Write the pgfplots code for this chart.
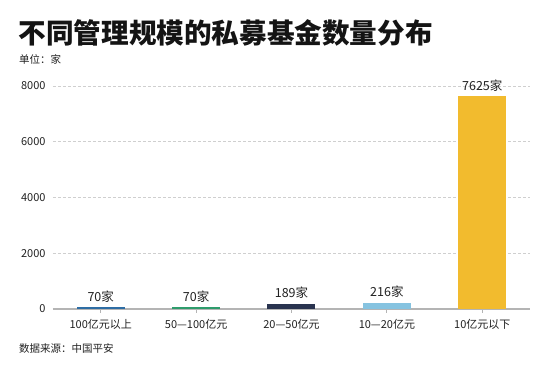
\documentclass[border=0pt]{standalone}
\usepackage{pgfplots}
\pgfplotsset{compat=1.18}
\usepackage{fontspec}
\setmainfont{Noto Sans CJK SC}
\definecolor{cblue}{HTML}{2E6DA4}
\definecolor{cgreen}{HTML}{2E9C6C}
\definecolor{cnavy}{HTML}{29334F}
\definecolor{clight}{HTML}{86C3E0}
\definecolor{cyellow}{HTML}{F2BB2E}
\definecolor{axisgray}{HTML}{B4B4B4}
\definecolor{gridgray}{HTML}{CFCFCF}
\definecolor{txt}{HTML}{222222}
\begin{document}
\begin{tikzpicture}[x=1pt,y=1pt]
\useasboundingbox (0,0) rectangle (550,371);
\fill[white] (0,0) rectangle (550,371);
\node[anchor=base west, inner sep=0, font=\fontsize{27.6}{30}\selectfont\bfseries, text=black!92] at (18.5,327) {不同管理规模的私募基金数量分布};
\node[anchor=base west, inner sep=0, font=\fontsize{10.5}{12}\selectfont, text=txt] at (19,307.5) {单位：家};
\node[anchor=base west, inner sep=0, font=\fontsize{10.5}{12}\selectfont, text=txt] at (19,18) {数据来源：中国平安};
\begin{axis}[
  at={(53pt,62pt)}, anchor=south west,
  width=477pt, height=223pt, scale only axis,
  xmin=-0.5, xmax=4.5, ymin=0, ymax=8000,
  ybar, bar width=48pt, bar shift=0pt,
  axis x line*=bottom, axis y line*=left,
  x axis line style={draw=none},
  y axis line style={draw=none},
  ytick={2000,4000,6000,8000},
  extra y ticks={0},
  extra y tick style={ymajorgrids=true, major grid style={draw=axisgray, solid, line width=1.3pt}},
  ymajorgrids,
  grid style={draw=gridgray, dash pattern=on 3pt off 2pt, line width=0.7pt},
  xtick={0,1,2,3,4},
  xticklabels={100亿元以上,50—100亿元,20—50亿元,10—20亿元,10亿元以下},
  xtick style={draw=axisgray, line width=0.8pt},
  ytick style={draw=none},
  tick align=outside, major tick length=4pt,
  xticklabel style={font=\fontsize{11}{12}\selectfont, text=txt, yshift=-3pt},
  yticklabel style={font=\fontsize{11}{12}\selectfont, text=txt},
  /pgf/number format/1000 sep={},
  /pgf/number format/assume math mode=true,
  nodes near coords={\pgfmathprintnumber{\pgfplotspointmeta}家},
  nodes near coords style={font=\fontsize{12.5}{14}\selectfont, text=txt, anchor=base, yshift=6pt},
  clip=false,
]
\addplot[fill=cblue, draw=none] coordinates {(0,70)};
\addplot[fill=cgreen, draw=none] coordinates {(1,70)};
\addplot[fill=cnavy, draw=none] coordinates {(2,189)};
\addplot[fill=clight, draw=none] coordinates {(3,216)};
\addplot[fill=cyellow, draw=none] coordinates {(4,7625)};
\end{axis}
\end{tikzpicture}
\end{document}
